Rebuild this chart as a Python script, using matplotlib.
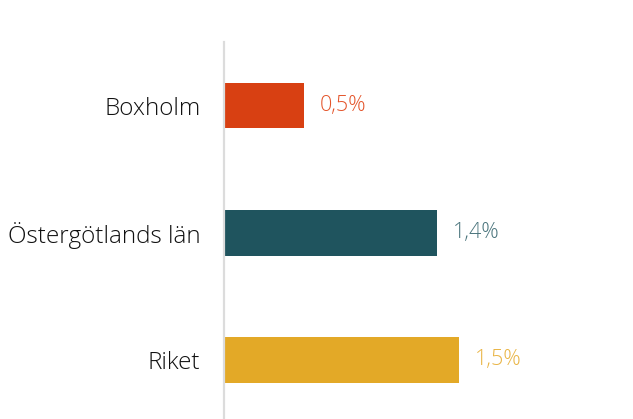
import matplotlib.pyplot as plt

regions = ['Boxholm', 'Östergötlands län', 'Riket']
values = [0.51, 1.36, 1.50]
value_labels = ['0,5%', '1,4%', '1,5%']
bar_colors = ['#D84012', '#1F545E', '#E3A927']
text_colors = ['#E4542A', '#4A747C', '#E9B444']

plt.rcParams['font.family'] = ['Open Sans', 'DejaVu Sans']

fig = plt.figure(figsize=(6.33, 4.19), dpi=100)
ax = fig.add_axes([224 / 633, 0, 387 / 633, 377 / 419])

ypos = range(len(regions))
ax.barh(ypos, values, height=0.36, color=bar_colors)
for y, v, lab, c in zip(ypos, values, value_labels, text_colors):
    ax.text(v + 0.1, y, lab, color=c, fontsize=15.5, fontweight='light',
            va='center', ha='left')

ax.set_xlim(0, 2.47)
ax.set_ylim(2.465, -0.5)
ax.set_yticks(list(ypos))
ax.set_yticklabels(regions, fontsize=17.5, fontweight='light', color='#111111')
ax.tick_params(axis='y', length=0, pad=17)
ax.set_xticks([])

for s in ['top', 'right', 'bottom']:
    ax.spines[s].set_visible(False)
ax.spines['left'].set_color('#dcdcdc')
ax.spines['left'].set_linewidth(1.6)

fig.savefig('out.png', dpi=100)
